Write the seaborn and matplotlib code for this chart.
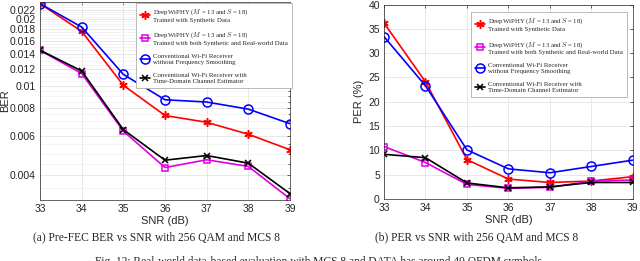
import numpy as np
import pandas as pd
import matplotlib
matplotlib.use('Agg')
import matplotlib.pyplot as plt
import seaborn as sns
from matplotlib.ticker import FixedLocator, NullFormatter, MultipleLocator

# Data
snr = [33, 34, 35, 36, 37, 38, 39]

ber_synth = [0.0234, 0.0176, 0.0101, 0.0074, 0.0069, 0.0061, 0.0052]
ber_real = [0.01446, 0.0114, 0.0063, 0.00433, 0.00469, 0.00438, 0.00314]
ber_conv = [0.0234, 0.0184, 0.0113, 0.0087, 0.0085, 0.0079, 0.0068]
ber_tdce = [0.0145, 0.0117, 0.0064, 0.00467, 0.0049, 0.00453, 0.00331]

per_synth = [36.2, 24.1, 8.1, 4.1, 3.4, 3.7, 4.6]
per_real = [10.8, 7.5, 3.0, 2.2, 2.4, 3.7, 3.9]
per_conv = [33.4, 23.3, 10.1, 6.2, 5.4, 6.7, 8.0]
per_tdce = [9.2, 8.5, 3.3, 2.3, 2.5, 3.4, 3.4]

ber_ticks = [0.004, 0.006, 0.008, 0.01, 0.012, 0.014, 0.016, 0.018, 0.02, 0.022]
ber_tick_labels = ['0.004', '0.006', '0.008', '0.01', '0.012', '0.014',
                   '0.016', '0.018', '0.02', '0.022']

labels = [
    'DeepWiPHY ($M$ = 13 and $S$ = 18)\nTrained with Synthetic Data',
    'DeepWiPHY ($M$ = 13 and $S$ = 18)\nTrained with both Synthetic and Real-world Data',
    'Conventional Wi-Fi Receiver\nwithout Frequency Smoothing',
    'Conventional Wi-Fi Receiver with\nTime-Domain Channel Estimator',
]
colors = ['#ff0000', '#e000e0', '#0000ff', '#000000']
markers = [(6, 2, 0), 's', 'o', 'x']
msizes = [6, 4.5, 6.5, 5]
open_face = [False, True, True, False]

sns.set_style('white')
plt.rcParams['font.family'] = ['Liberation Sans', 'DejaVu Sans']
plt.rcParams['mathtext.fontset'] = 'cm'

fig = plt.figure(figsize=(6.4, 2.61), dpi=100)
ax1 = fig.add_axes([0.0625, 0.2337, 0.3906, 0.7586])
ax2 = fig.add_axes([0.6, 0.2375, 0.389, 0.745])


def draw(ax, series):
    handles = []
    for vals, c, m, ms, of in zip(series, colors, markers, msizes, open_face):
        df = pd.DataFrame({'SNR': snr, 'val': vals})
        n_before = len(ax.get_lines())
        sns.lineplot(data=df, x='SNR', y='val', color=c, linewidth=1.2,
                     ax=ax, legend=False)
        line = ax.get_lines()[n_before]
        line.set_marker(m)
        line.set_markersize(ms)
        line.set_markeredgewidth(1.1)
        line.set_markeredgecolor(c)
        line.set_markerfacecolor('none' if of else c)
        line.set_linestyle('-')
        handles.append(line)
    return handles


def style_axes(ax):
    ax.set_xlim(33, 39)
    ax.xaxis.set_major_locator(MultipleLocator(1))
    ax.tick_params(which='both', direction='in', top=True, right=True,
                   labelsize=7.5, colors='#262626', length=2.5, width=0.5, pad=3)
    ax.tick_params(which='minor', length=1.5)
    for s in ax.spines.values():
        s.set_color('#262626')
        s.set_linewidth(0.5)
    ax.set_xlabel('SNR (dB)', fontsize=8, color='#262626', labelpad=1)


# (a) BER
h1 = draw(ax1, [ber_synth, ber_real, ber_conv, ber_tdce])
ax1.set_yscale('log')
ax1.set_ylim(0.0031, 0.0238)
ax1.yaxis.set_major_locator(FixedLocator(ber_ticks))
ax1.set_yticklabels(ber_tick_labels)
ax1.yaxis.set_minor_locator(FixedLocator(np.arange(0.0035, 0.0236, 0.0005)))
ax1.yaxis.set_minor_formatter(NullFormatter())
ax1.grid(True, which='major', color='#e3e3e3', linewidth=0.6)
ax1.grid(True, which='minor', axis='y', color='#f0f0f0', linewidth=0.5)
style_axes(ax1)
ax1.set_ylabel('BER', fontsize=8, color='#262626', labelpad=0)

# (b) PER
h2 = draw(ax2, [per_synth, per_real, per_conv, per_tdce])
ax2.set_ylim(0, 40)
ax2.yaxis.set_major_locator(MultipleLocator(5))
ax2.grid(True, which='major', color='#e3e3e3', linewidth=0.6)
style_axes(ax2)
ax2.set_ylabel('PER (%)', fontsize=8, color='#262626', labelpad=3)

leg_kw = dict(frameon=True, fancybox=False, framealpha=1,
              edgecolor='#b0b0b0', handlelength=1.5, handletextpad=0.35,
              labelspacing=1.15, borderpad=0.65, borderaxespad=0,
              prop={'family': 'Liberation Serif', 'size': 4.9})
for ax, hs, anchor in ((ax1, h1, (1.008, 0.995)), (ax2, h2, (0.976, 0.961))):
    leg = ax.legend(hs, labels, loc='upper right', bbox_to_anchor=anchor, **leg_kw)
    leg.get_frame().set_linewidth(0.6)

fig.text(0.245, 0.09, '(a) Pre-FEC BER vs SNR with 256 QAM and MCS 8',
         ha='center', va='center', fontsize=8.3, family='Liberation Serif')
fig.text(0.745, 0.09, '(b) PER vs SNR with 256 QAM and MCS 8',
         ha='center', va='center', fontsize=8.3, family='Liberation Serif')
fig.text(0.5, -0.005, 'Fig. 12: Real-world data-based evaluation with MCS 8 and DATA has around 40 OFDM symbols.',
         ha='center', va='center', fontsize=8.3, family='Liberation Serif')

fig.savefig('out.png', dpi=100)
